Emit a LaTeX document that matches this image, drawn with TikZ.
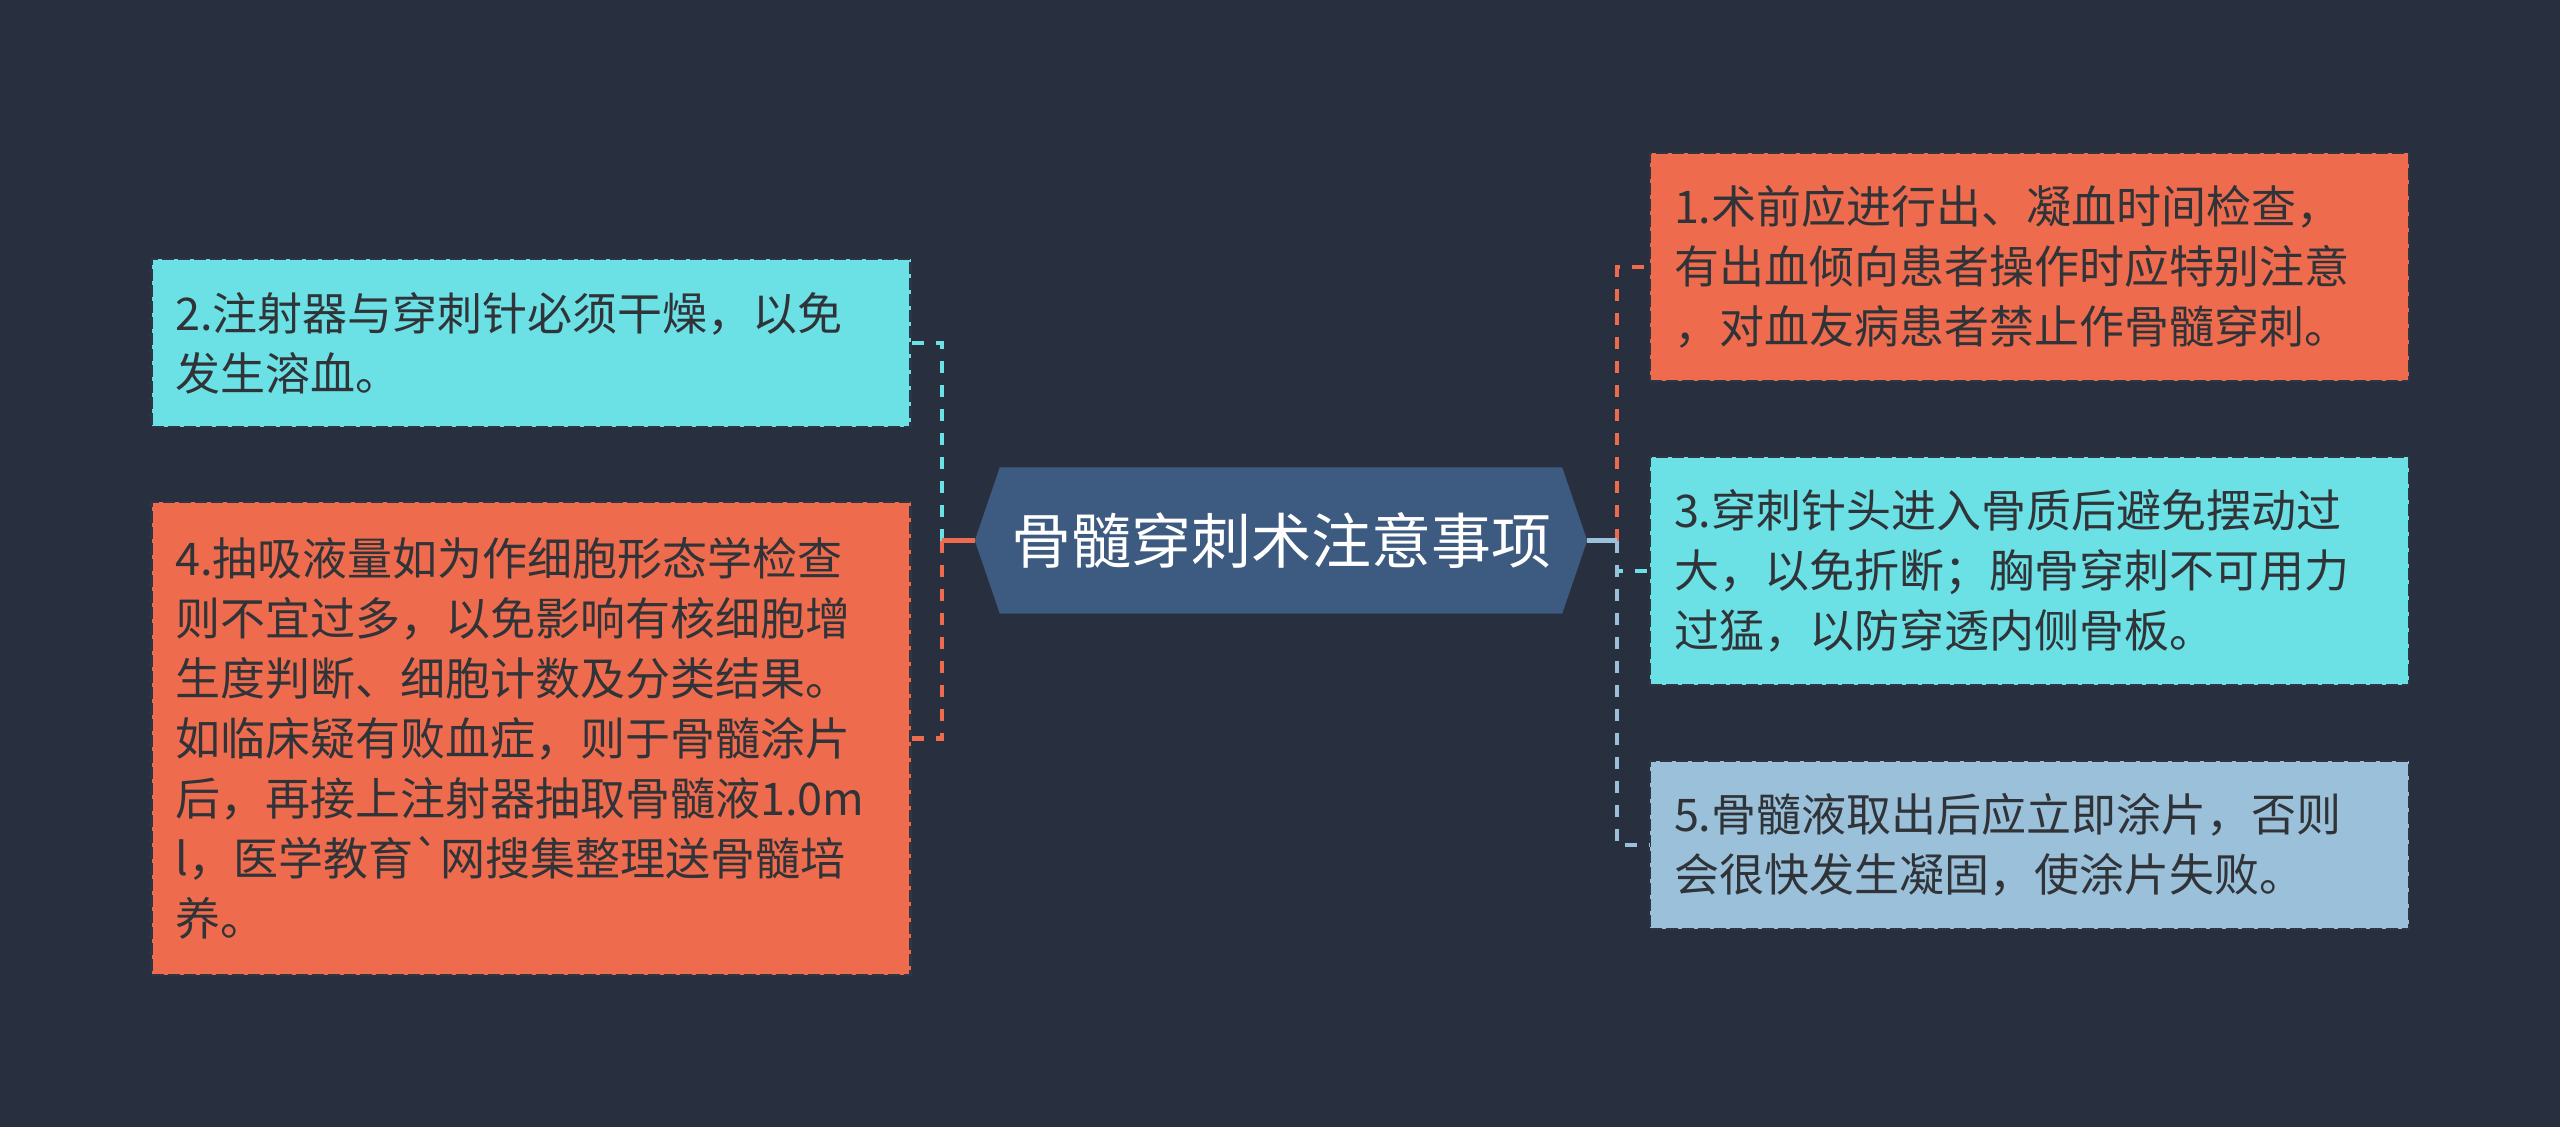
\documentclass[tikz,border=0pt]{standalone}
\usepackage{fontspec}
\newfontfamily\cjk{Noto Sans CJK SC}[Ligatures=TeXOff]
\usetikzlibrary{backgrounds}
\definecolor{bgC}{HTML}{283040}
\definecolor{orC}{HTML}{EF6B4D}
\definecolor{cyC}{HTML}{6BE0E5}
\definecolor{lbC}{HTML}{9BC0DA}
\definecolor{hxC}{HTML}{3D5A80}
\definecolor{txC}{HTML}{303438}
\definecolor{bdC}{HTML}{2E3646}
\begin{document}
\begin{tikzpicture}[x=1pt,y=-1pt,
  box/.style={draw=bdC, line width=2.5pt, dash pattern=on 12pt off 4pt,
    inner xsep=24pt, inner ysep=0pt, align=left, text=txC,
    font=\cjk\fontsize{45}{60}\selectfont, text width=711pt, minimum width=759pt},
  conn/.style={line width=4.5pt, dash pattern=on 12pt off 12pt},
  stem/.style={line width=4.5pt},
  hub/.style={font=\cjk\fontsize{60}{70}\selectfont, text=white,
    minimum width=612pt, minimum height=146pt, inner sep=0pt}]
\useasboundingbox (0,0) rectangle (2560,1127);
\node[hub] (c) at (1281,540.5) {骨髓穿刺术注意事项};
\begin{scope}[on background layer]
  \fill[bgC] (0,0) rectangle (2560,1127);
  \fill[hxC] (c.west) -- ([xshift=25pt]c.north west) -- ([xshift=-25pt]c.north east)
    -- (c.east) -- ([xshift=-25pt]c.south east) -- ([xshift=25pt]c.south west) -- cycle;
\end{scope}
\node[box, fill=orC, minimum height=228pt] (b1) at (2029.5,267)
  {1.术前应进行出、凝血时间检查，\\有出血倾向患者操作时应特别注意\\，对血友病患者禁止作骨髓穿刺。};
\node[box, fill=cyC, minimum height=228pt] (b3) at (2029.5,571)
  {3.穿刺针头进入骨质后避免摆动过\\大，以免折断；胸骨穿刺不可用力\\过猛，以防穿透内侧骨板。};
\node[box, fill=lbC, minimum height=168pt] (b5) at (2029.5,845)
  {5.骨髓液取出后应立即涂片，否则\\会很快发生凝固，使涂片失败。};
\node[box, fill=cyC, minimum height=168pt] (b2) at (531,343)
  {2.注射器与穿刺针必须干燥，以免\\发生溶血。};
\node[box, fill=orC, minimum height=473pt] (b4) at (531,738.5)
  {4.抽吸液量如为作细胞形态学检查\\则不宜过多，以免影响有核细胞增\\生度判断、细胞计数及分类结果。\\如临床疑有败血症，则于骨髓涂片\\后，再接上注射器抽取骨髓液1.0m\\l，医学教育`网搜集整理送骨髓培\\养。};
\coordinate (lt) at (942,540.5);
\coordinate (rt) at (1617,540.5);
\draw[conn, cyC] (lt) |- (b2.east);
\draw[conn, orC] (lt) |- (b4.east);
\draw[stem, orC] (c.west) -- (lt);
\draw[conn, orC] (rt) |- (b1.west);
\draw[conn, cyC] (rt) |- (b3.west);
\draw[conn, lbC] (rt) |- (b5.west);
\draw[stem, lbC] (c.east) -- (rt);
\end{tikzpicture}
\end{document}
